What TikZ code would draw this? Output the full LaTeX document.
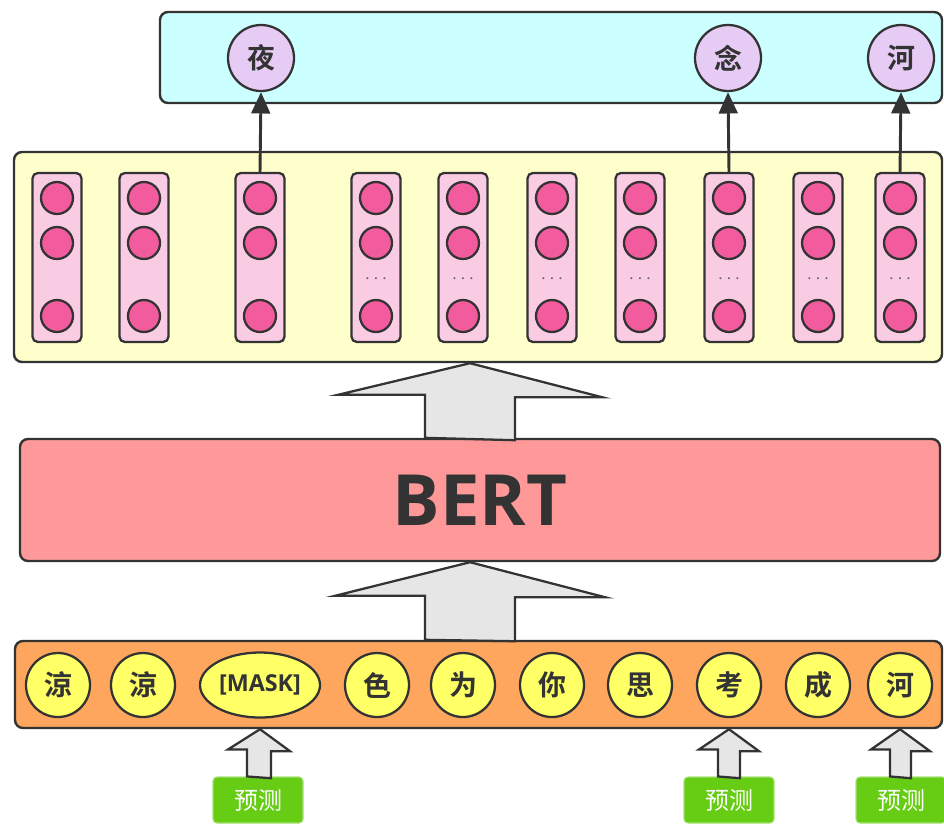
\documentclass[tikz,border=0pt]{standalone}
\usepackage{fontspec}
\usetikzlibrary{positioning,arrows.meta,calc,shapes.geometric}
\newfontfamily\cjk{Noto Sans CJK SC}[BoldFont={Noto Sans CJK SC Bold}]
\newfontfamily\opensans{Open Sans}
\definecolor{drawdark}{HTML}{333333}
\definecolor{outcyan}{HTML}{CCFFFF}
\definecolor{outlilac}{HTML}{E6CCF5}
\definecolor{encyellow}{HTML}{FFFFCC}
\definecolor{colpink}{HTML}{F9CCE4}
\definecolor{unitpink}{HTML}{F25C9E}
\definecolor{bertred}{HTML}{FF9999}
\definecolor{inorange}{HTML}{FFA65E}
\definecolor{tokyellow}{HTML}{FFFF66}
\definecolor{arrowgray}{HTML}{E6E6E6}
\definecolor{predgreen}{HTML}{66CC14}

\begin{document}
\begin{tikzpicture}[x=0.75pt, y=-0.75pt, >=stealth, line cap=round,
  panel/.style={draw=drawdark, line width=1.8pt, rounded corners=6pt},
  col/.style={draw=drawdark, line width=1.7pt, fill=colpink, rounded corners=4pt,
    minimum width=36.75pt, minimum height=126.75pt},
  unit/.style={circle, draw=drawdark, line width=1.7pt, fill=unitpink, minimum size=24pt, inner sep=0pt},
  token/.style={circle, draw=drawdark, line width=1.7pt, fill=tokyellow, minimum size=48pt, inner sep=0pt,
    text=drawdark, font=\cjk\bfseries\fontsize{21}{24}\selectfont},
  outtok/.style={token, fill=outlilac, minimum size=49.5pt},
  fatarrow/.style={draw=drawdark, line width=1.7pt, fill=arrowgray, line join=miter},
  predbox/.style={draw=predgreen!60!white, line width=0.8pt, fill=predgreen, rounded corners=3pt,
    minimum width=67.5pt, minimum height=34.5pt, inner sep=0pt, text=white,
    font=\cjk\fontsize{18}{21}\selectfont}
]
  \useasboundingbox (0,0) rectangle (944,826);
  \coordinate (mid) at (470,0);

  \node[panel, fill=outcyan, minimum width=586.5pt, minimum height=68.25pt] (outpanel) at (551,57.5) {};
  \node[panel, fill=encyellow, minimum width=696pt, minimum height=157.5pt] (encpanel) at (478,257) {};
  \node[panel, fill=bertred, minimum width=690pt, minimum height=91.5pt,
    text=drawdark, font=\opensans\bfseries\fontsize{53}{58}\selectfont] (bert) at (480,500) {BERT};
  \node[panel, fill=inorange, minimum width=695.25pt, minimum height=65.25pt] (inpanel) at (478.5,684.5) {};

  \foreach \x [count=\i] in {57,144,260,376,463,552,640,729,818,900} {
    \node[col] (col\i) at (\x,257.5) {};
    \node[unit] (ua\i) at (\x,198) {};
    \node[unit] (ub\i) at (\x,243) {};
    \node[unit] (uc\i) at (\x,316) {};
    \ifnum\i>3
      \node[text=drawdark!80, font=\Large] (dots\i) at (\x,279) {$\cdots$};
    \fi
  }

  \node[outtok] (out1) at (261,58) {夜};
  \node[outtok] (out2) at (728,58) {念};
  \node[outtok] (out3) at (901,58) {河};

  \foreach \c/\o in {col3/out1, col8/out2, col10/out3}
    \draw[-{Triangle[length=16pt,width=14pt]}, drawdark, line width=2.2pt] (\c.north) -- (\o.south);

  \draw[fatarrow] ($(mid |- bert.north)+(-45,0)$) -- ++(0,-43) -- ++(-87,0)
    -- (mid |- encpanel.south) -- ++(132,34) -- ++(-87,0) -- ++(0,43) -- cycle;
  \draw[fatarrow] ($(mid |- inpanel.north)+(-45,0)$) -- ++(0,-44) -- ++(-90,0)
    -- (mid |- bert.south) -- ++(135,35) -- ++(-90,0) -- ++(0,44) -- cycle;

  \foreach \x/\t [count=\i] in {58/涼,143/涼,377/色,463/为,552/你,640/思,729/考,818/成,900/河}
    \node[token] (tok\i) at (\x,685) {\t};
  \node[token, ellipse, minimum width=90pt, minimum height=48.75pt,
    font=\opensans\bfseries\fontsize{17.5}{20}\selectfont] (mask) at (260,685) {[MASK]};

  \node[predbox] (pred1) at (258,800) {预测};
  \node[predbox] (pred2) at (729,800) {预测};
  \node[predbox] (pred3) at (901,800) {预测};

  \foreach \p/\t in {pred1/mask, pred2/tok7, pred3/tok9}
    \draw[fatarrow] ($(\p.north)+(-11,0)$) -- ++(0,-27) -- ++(-19,0)
      -- (\t.south |- inpanel.south) -- ++(30,22) -- ++(-19,0) -- ++(0,27) -- cycle;
\end{tikzpicture}
\end{document}
